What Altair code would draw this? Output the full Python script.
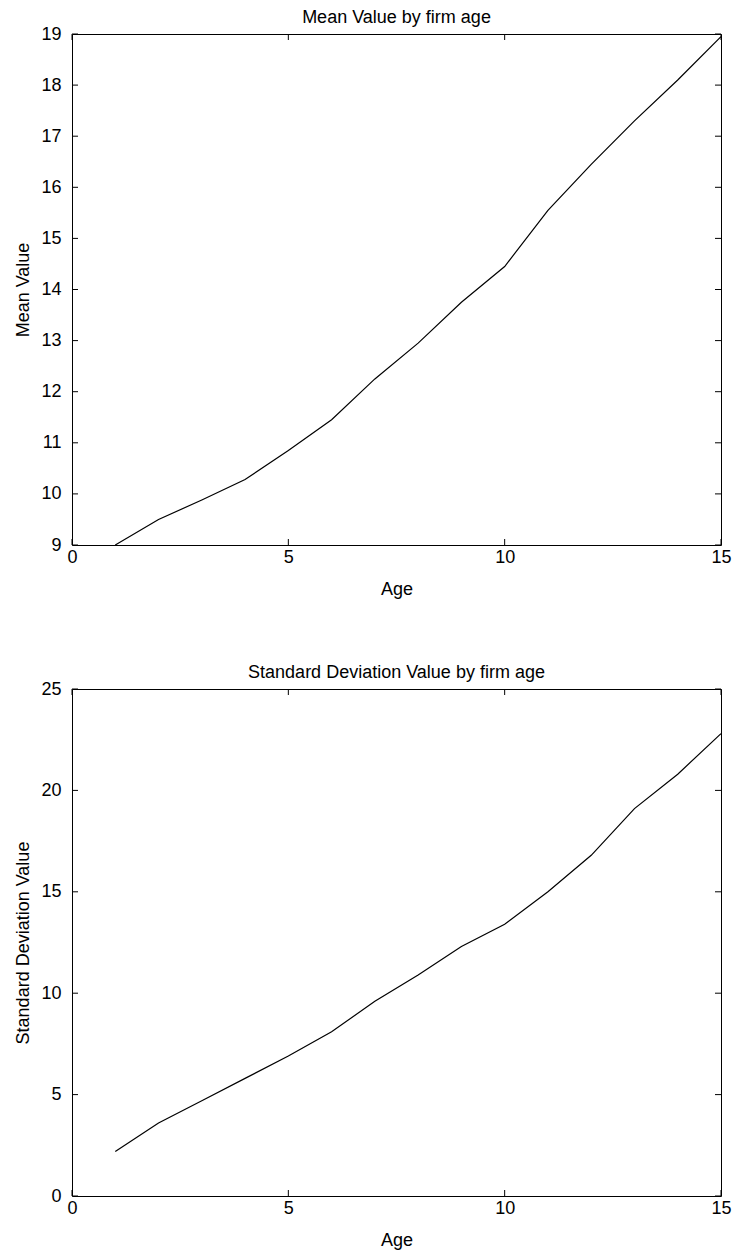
import altair as alt
import pandas as pd

# ---- data ----
ages = list(range(1, 16))
mean_value = [9.0, 9.5, 9.88, 10.28, 10.85, 11.45, 12.25, 12.95, 13.75, 14.45,
              15.55, 16.45, 17.3, 18.1, 18.95]
std_value = [2.2, 3.6, 4.7, 5.8, 6.9, 8.1, 9.6, 10.9, 12.3, 13.4,
             15.0, 16.8, 19.1, 20.8, 22.8]

x_ticks = [0, 5, 10, 15]
mean_ticks = list(range(9, 20))
std_ticks = [0, 5, 10, 15, 20, 25]

W = 649
FONT = "Liberation Sans"
FS = 18
TICK = 6


def panel(values, y_ticks, y_domain, y_title, title, height):
    df = pd.DataFrame({"Age": ages, "Value": values})
    xs = alt.Scale(domain=[0, 15], nice=False, zero=False)
    ys = alt.Scale(domain=y_domain, nice=False, zero=False)
    xa = alt.Axis(title="Age", values=x_ticks, grid=False, ticks=False,
                  domain=False, labelPadding=3, titlePadding=14,
                  labelFlush=False, labelOverlap=False)
    ya = alt.Axis(title=y_title, values=y_ticks, grid=False, ticks=False,
                  domain=False, labelPadding=11, titlePadding=8,
                  labelOverlap=False, labelFlush=False)

    line = alt.Chart(df).mark_line(color="black", strokeWidth=1.2).encode(
        x=alt.X("Age:Q", scale=xs, axis=xa),
        y=alt.Y("Value:Q", scale=ys, axis=ya),
    )

    ydf = pd.DataFrame({"Value": y_ticks})
    xdf = pd.DataFrame({"Age": x_ticks})
    yl = alt.Chart(ydf).mark_rule(color="black").encode(
        y=alt.Y("Value:Q", scale=ys, axis=ya), x=alt.value(0), x2=alt.value(TICK))
    yr = alt.Chart(ydf).mark_rule(color="black").encode(
        y=alt.Y("Value:Q", scale=ys, axis=ya), x=alt.value(W - TICK), x2=alt.value(W))
    xb = alt.Chart(xdf).mark_rule(color="black").encode(
        x=alt.X("Age:Q", scale=xs, axis=xa), y=alt.value(height), y2=alt.value(height - TICK))
    xt = alt.Chart(xdf).mark_rule(color="black").encode(
        x=alt.X("Age:Q", scale=xs, axis=xa), y=alt.value(0), y2=alt.value(TICK))

    return alt.layer(line, yl, yr, xb, xt).properties(
        width=W, height=height,
        title=alt.TitleParams(title, fontSize=FS, font=FONT, fontWeight="normal",
                              anchor="middle", offset=-2, color="black"),
    )


top = panel(mean_value, mean_ticks, [9, 19], "Mean Value", "Mean Value by firm age", 511)
bottom = panel(std_value, std_ticks, [0, 25], "Standard Deviation Value",
               "Standard Deviation Value by firm age", 507)

chart = alt.vconcat(top, bottom, spacing=64).properties(
    padding={"left": 14, "top": 8, "right": 0, "bottom": 5},
    background="white",
).configure_view(
    stroke="black", strokeWidth=1
).configure_axis(
    labelFont=FONT, titleFont=FONT, labelFontSize=FS, titleFontSize=FS,
    labelColor="black", titleColor="black", titleFontWeight="normal"
)

chart.save("out.html", embed_options={"renderer": "svg", "actions": False})
